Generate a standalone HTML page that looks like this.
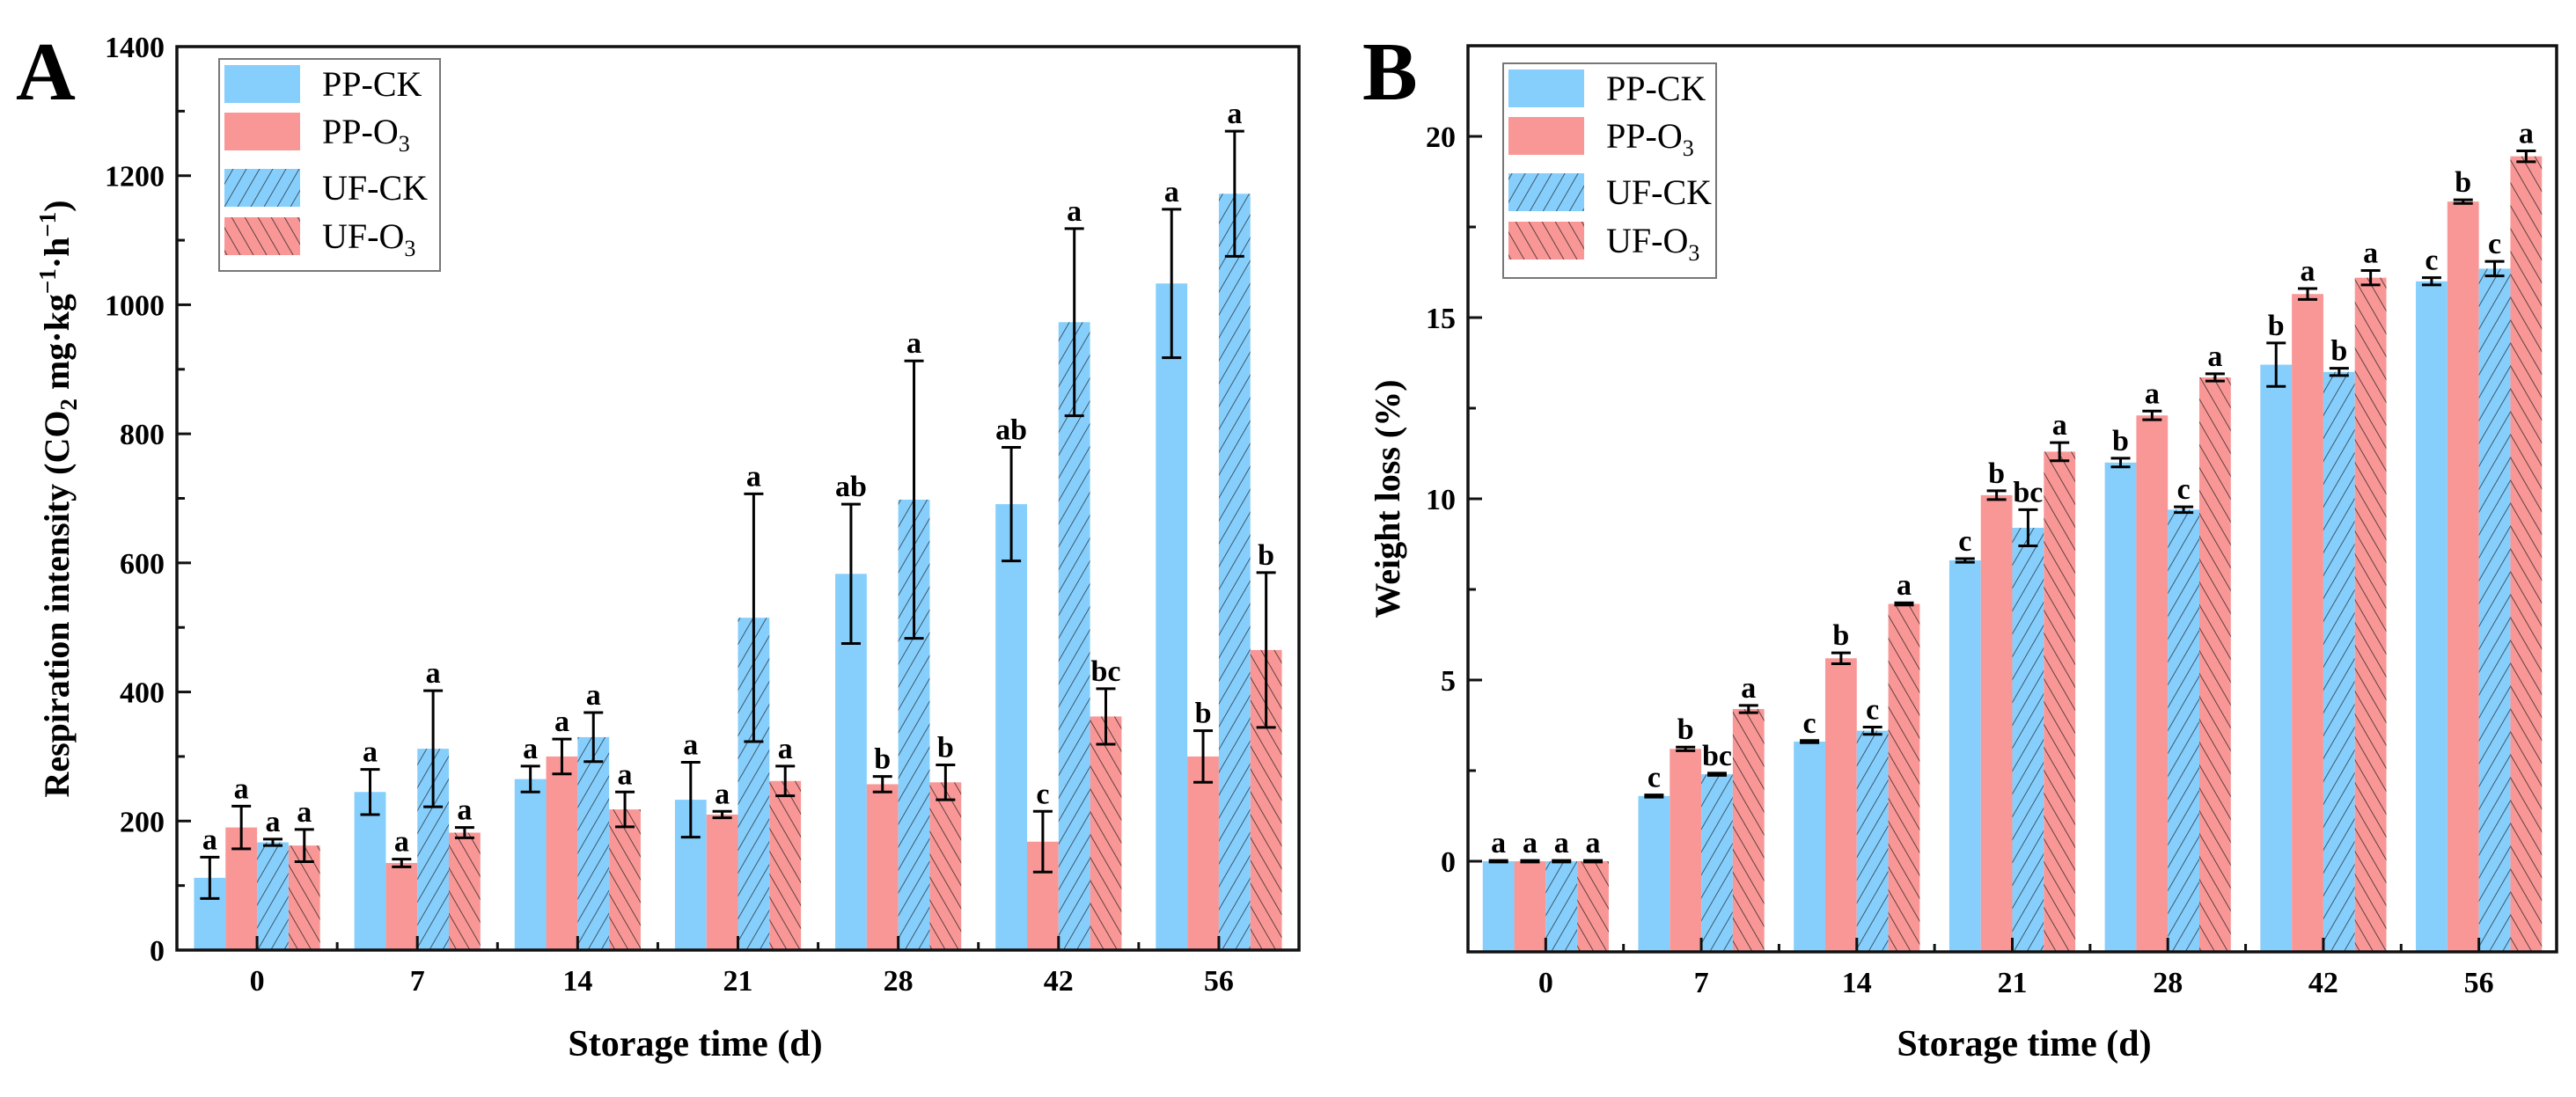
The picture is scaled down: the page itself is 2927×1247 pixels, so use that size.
<!DOCTYPE html>
<html><head><meta charset="utf-8"><style>
html,body{margin:0;padding:0;background:#fff;}
svg{display:block;font-family:"Liberation Serif","Times New Roman",serif;}
</style></head><body>
<svg id="chart" width="2927" height="1247" viewBox="0 0 2927 1247" xmlns="http://www.w3.org/2000/svg">
<defs>
<pattern id="hatchF" patternUnits="userSpaceOnUse" width="13" height="13" patternTransform="rotate(30)">
<rect width="13" height="13" fill="#86CFFC"/><line x1="0" y1="0" x2="0" y2="13" stroke="#2b3a48" stroke-width="1.6"/></pattern>
<pattern id="hatchB" patternUnits="userSpaceOnUse" width="13" height="13" patternTransform="rotate(-30)">
<rect width="13" height="13" fill="#F99797"/><line x1="0" y1="0" x2="0" y2="13" stroke="#3a2a2a" stroke-width="1.6"/></pattern>
</defs>
<g id="root"></g>
</svg>
<script>
const categories = ["0","7","14","21","28","42","56"];
const seriesNames = ["PP-CK","PP-O3","UF-CK","UF-O3"];
// Panel A: respiration intensity
const aPPCK = [112,245,265,233,583,691,1033];
const aPPO3 = [190,135,300,210,257,168,300];
const aUFCK = [167,312,330,515,698,973,1172];
const aUFO3 = [162,182,218,262,260,362,465];
const aErrPPCK = [32,35,20,58,108,88,115];
const aErrPPO3 = [33,6,27,5,12,47,40];
const aErrUFCK = [5,90,38,192,215,145,97];
const aErrUFO3 = [25,8,27,23,27,43,120];
const aLetPPCK = ["a","a","a","a","ab","ab","a"];
const aLetPPO3 = ["a","a","a","a","b","c","b"];
const aLetUFCK = ["a","a","a","a","a","a","a"];
const aLetUFO3 = ["a","a","a","a","b","bc","b"];
const aTicks = [0,200,400,600,800,1000,1200,1400];
// Panel B: weight loss
const bPPCK = [0,1.8,3.3,8.3,11.0,13.7,16.0];
const bPPO3 = [0,3.1,5.6,10.1,12.3,15.65,18.2];
const bUFCK = [0,2.4,3.6,9.2,9.7,13.5,16.35];
const bUFO3 = [0,4.2,7.1,11.3,13.35,16.1,19.45];
const bErrPPCK = [0.02,0.03,0.03,0.05,0.12,0.6,0.1];
const bErrPPO3 = [0.02,0.05,0.15,0.12,0.12,0.15,0.05];
const bErrUFCK = [0.02,0.03,0.1,0.5,0.08,0.1,0.2];
const bErrUFO3 = [0.02,0.1,0.03,0.25,0.1,0.2,0.15];
const bLetPPCK = ["a","c","c","c","b","b","c"];
const bLetPPO3 = ["a","b","b","b","a","a","b"];
const bLetUFCK = ["a","bc","c","bc","c","b","c"];
const bLetUFO3 = ["a","a","a","a","a","a","a"];
const bTicks = [0,5,10,15,20];

const NS="http://www.w3.org/2000/svg";
const root=document.getElementById('root');
function mk(tag,attrs,parent){const e=document.createElementNS(NS,tag);for(const k in attrs)e.setAttribute(k,attrs[k]);(parent||root).appendChild(e);return e;}
const fills=["#86CFFC","#F99797","url(#hatchF)","url(#hatchB)"];

function panel(cfg){
  const g=mk('g',{});
  
  
  const {L,R,T,B,min,max}=cfg;
  const y=v=>B-(v-min)/(max-min)*(B-T);
  const gw=(R-L)/categories.length;
  const cx=i=>L+gw/2+gw*i;
  const bw=35.8;
  for(let s=0;s<4;s++){
    for(let i=0;i<categories.length;i++){
      const v=cfg.vals[s][i];
      const x=cx(i)-2*bw+s*bw;
      const y0=y(min), y1=y(v);
      const r=mk('rect',{x:x,y:Math.min(y0,y1),width:bw,height:Math.max(Math.abs(y0-y1),0.01),fill:fills[s]},g);
      
      
      const e=cfg.errs[s][i], xm=x+bw/2;
      const et=y(v+e), eb=y(v-e);
      const eg=mk('g',{stroke:'#000','stroke-width':3},g);
      
      
      mk('line',{x1:xm,y1:et,x2:xm,y2:eb},eg);
      mk('line',{x1:xm-11,y1:et,x2:xm+11,y2:et},eg);
      mk('line',{x1:xm-11,y1:eb,x2:xm+11,y2:eb},eg);
      const t=mk('text',{x:xm,y:et-9,'text-anchor':'middle','font-size':34,'font-weight':'bold'},g);
      t.textContent=cfg.lets[s][i];
      
      
    }
  }
  const fr=mk('rect',{x:L,y:T,width:R-L,height:B-T,fill:'none',stroke:'#111','stroke-width':3.5},g);
  
  
  for(let k=0;k<cfg.ticks.length;k++){
    const v=cfg.ticks[k], yy=y(v);
    mk('line',{x1:L,y1:yy,x2:L+16,y2:yy,stroke:'#111','stroke-width':3},g);
    if(k<cfg.ticks.length-1||cfg.lastMinor){const mv=v+cfg.step/2;if(mv<max) mk('line',{x1:L,y1:y(mv),x2:L+9,y2:y(mv),stroke:'#111','stroke-width':3},g);}
    const t=mk('text',{x:L-14,y:yy+12,'text-anchor':'end','font-size':34,'font-weight':'bold'},g);
    t.textContent=v;
    
    
  }
  if(cfg.minorBelow) mk('line',{x1:L,y1:y(-cfg.step/2),x2:L+9,y2:y(-cfg.step/2),stroke:'#111','stroke-width':3},g);
  for(let i=0;i<categories.length;i++){
    mk('line',{x1:cx(i),y1:B,x2:cx(i),y2:B-16,stroke:'#111','stroke-width':3},g);
    if(i>0) mk('line',{x1:L+gw*i,y1:B,x2:L+gw*i,y2:B-9,stroke:'#111','stroke-width':3},g);
    const t=mk('text',{x:cx(i),y:B+46,'text-anchor':'middle','font-size':34,'font-weight':'bold'},g);
    t.textContent=categories[i];
    
    
  }
  const lg=mk('g',{},g);
  
  
  const lx=cfg.leg.x, ly=cfg.leg.y;
  mk('rect',{x:lx,y:ly,width:cfg.leg.w,height:cfg.leg.h,fill:'#fff',stroke:'#777','stroke-width':2},lg);
  const rows=[ly+7,ly+61,ly+125,ly+180];
  for(let s=0;s<4;s++){
    const e=mk('g',{},lg);
    
    
    mk('rect',{x:lx+6,y:rows[s],width:86,height:43,fill:fills[s]},e);
    const t=mk('text',{x:lx+117,y:rows[s]+35,'font-size':40},e);
    if(seriesNames[s].endsWith('O3')){
      t.textContent=seriesNames[s].slice(0,-1);
      const sb=mk('tspan',{'font-size':26,dy:9},t);sb.textContent='3';
    } else t.textContent=seriesNames[s];
  }
  return g;
}

panel({name:'panel-a-respiration',L:201,R:1476,T:53,B:1080,min:0,max:1400,step:200,
  vals:[aPPCK,aPPO3,aUFCK,aUFO3],errs:[aErrPPCK,aErrPPO3,aErrUFCK,aErrUFO3],lets:[aLetPPCK,aLetPPO3,aLetUFCK,aLetUFO3],
  ticks:aTicks,leg:{x:249,y:67,w:251,h:241}});
panel({name:'panel-b-weight-loss',L:1668,R:2905,T:52,B:1082,min:-2.5,max:22.5,step:5,lastMinor:true,minorBelow:true,
  vals:[bPPCK,bPPO3,bUFCK,bUFO3],errs:[bErrPPCK,bErrPPO3,bErrUFCK,bErrUFO3],lets:[bLetPPCK,bLetPPO3,bLetUFCK,bLetUFO3],
  ticks:bTicks,leg:{x:1708,y:72,w:242,h:244}});
</script>
<script>
(function(){
const NS="http://www.w3.org/2000/svg";
const root=document.getElementById('root');
function T(attrs,html,name){const e=document.createElementNS(NS,'text');for(const k in attrs)e.setAttribute(k,attrs[k]);e.innerHTML=html;root.appendChild(e);


return e;}
T({x:18,y:113,'font-size':94,'font-weight':'bold'},'A','panel-label-a');
T({x:1548,y:113,'font-size':94,'font-weight':'bold'},'B','panel-label-b');
T({x:0,y:0,'font-size':40,'font-weight':'bold','text-anchor':'middle',transform:'translate(78,567) rotate(-90)'},
 'Respiration intensity (CO<tspan font-size="27" dy="9">2</tspan><tspan dy="-9"> mg·kg</tspan><tspan font-size="27" dy="-15">−1</tspan><tspan dy="15">·h</tspan><tspan font-size="27" dy="-15">−1</tspan><tspan dy="15">)</tspan>','y-axis-title-a');
T({x:0,y:0,'font-size':40,'font-weight':'bold','text-anchor':'middle',transform:'translate(1590,567) rotate(-90)'},'Weight loss (%)','y-axis-title-b');
T({x:790,y:1200,'font-size':42,'font-weight':'bold','text-anchor':'middle','xml:space':'preserve'},'Storage time  (d)','x-axis-title-a');
T({x:2300,y:1200,'font-size':42,'font-weight':'bold','text-anchor':'middle'},'Storage time (d)','x-axis-title-b');
})();
</script>
</body></html>
